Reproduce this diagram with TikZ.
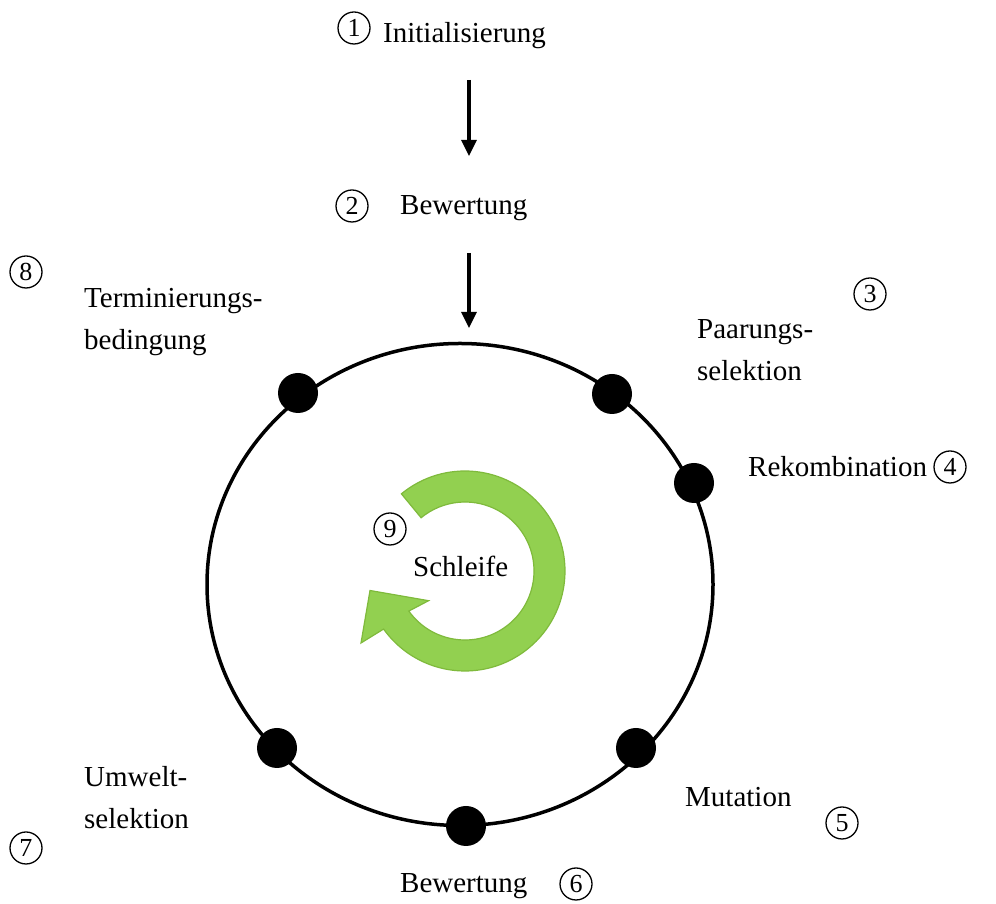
\documentclass[tikz,border=0pt]{standalone}
\usepackage{fontspec}
\setmainfont{Liberation Serif}
\usetikzlibrary{arrows.meta,calc}
\definecolor{leaf}{HTML}{92D050}
\definecolor{leafline}{HTML}{7FBA3C}
\tikzset{
  lbl/.style={anchor=west, font=\fontsize{29}{42}\selectfont, inner sep=0pt, align=left},
  num/.style={circle, draw, line width=1.3pt, minimum size=32pt, inner sep=0pt,
              font=\fontsize{26}{26}\selectfont},
  dot/.style={circle, fill=black, minimum size=40pt, inner sep=0pt},
  flow/.style={line width=3.2pt, -{Triangle[width=15pt,length=16pt]}},
}
\begin{document}
\begin{tikzpicture}[x=1pt,y=1pt]
\useasboundingbox (0,0) rectangle (996,904);

% start of the run
\node[num] (n1) at (354,876) {1};
\node[lbl] (init) at (383,868) {Initialisierung};
\node[num] (n2) at (352,698) {2};
\node[lbl] (eval1) at (400,696) {Bewertung};

\coordinate (a1s) at (469,824);
\coordinate (a1e) at (469,748);
\draw[flow] (a1s) -- (a1e);

% the generation cycle
\coordinate (E) at (460,319.5);
\draw[line width=3.5pt] (E) ellipse[x radius=253, y radius=241];
\coordinate (a2s) at (469,651);
\coordinate (a2e) at (469,576);
\draw[flow] (a2s) -- (a2e);

\node[dot] (d8) at (298,511) {};
\node[dot] (d3) at (612,510) {};
\node[dot] (d4) at (694,421) {};
\node[dot] (d5) at (636,156) {};
\node[dot] (d6) at (466,78) {};
\node[dot] (d7) at (277,156) {};

% step labels
\node[num] (n3) at (870,610) {3};
\node[lbl] (pair) at (697,554) {Paarungs-\\selektion};
\node[num] (n4) at (950,437) {4};
\node[lbl] (reco) at (748,437) {Rekombination};
\node[num] (n5) at (842,81) {5};
\node[lbl] (mut) at (685,107) {Mutation};
\node[num] (n6) at (576,20) {6};
\node[lbl] (eval2) at (400,18) {Bewertung};
\node[num] (n7) at (26,56) {7};
\node[lbl] (env) at (84,106) {Umwelt-\\selektion};
\node[num] (n8) at (26,632) {8};
\node[lbl] (term) at (84,582) {Terminierungs-\\bedingung};

% loop arrow in the middle
\coordinate (A) at (465,333);
\filldraw[fill=leaf, draw=leafline, line width=1.2pt, line join=miter]
  ($(A)+(129.5:100)$) arc[start angle=129.5, end angle=-144.5, radius=100]
  -- (361,261) -- (370,313.5) -- (428.6,303.3)
  -- ($(A)+(-144.5:69)$) arc[start angle=-144.5, end angle=129.5, radius=69]
  -- cycle;
\node[num] (n9) at (390,375) {9};
\node[lbl] (loop) at (413,338) {Schleife};
\end{tikzpicture}
\end{document}
